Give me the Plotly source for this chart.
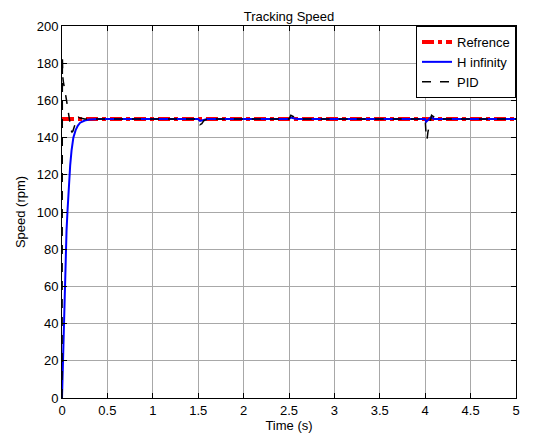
import plotly.graph_objects as go

# Reference speed
t_ref = [0, 5]
speed_ref = [150, 150]

# H infinity controller response
t_hinf = [0, 0.003, 0.006, 0.01, 0.015, 0.02, 0.025, 0.03, 0.036, 0.043, 0.05, 0.06, 0.07,
          0.08, 0.09, 0.105, 0.125, 0.15, 0.175, 0.2, 0.25, 0.3, 0.35, 0.4,
          1.5, 1.52, 1.56, 1.6, 2.5, 2.52, 2.56, 2.6, 4.0, 4.01, 4.03, 4.06, 4.1, 5]
speed_hinf = [0, 6, 14, 22, 32, 42, 52, 60, 70, 80, 90, 100, 110,
              118, 125, 133, 140, 144, 146.5, 148, 149.2, 149.7, 149.9, 150,
              150, 149, 149.5, 150, 150, 150.8, 150.3, 150, 150, 148.5, 149.5, 150.8, 150, 150]

# PID controller response
t_pid = [0, 0.002, 0.004, 0.006, 0.01, 0.015, 0.02, 0.03, 0.04, 0.05, 0.06, 0.07, 0.08,
         0.09, 0.1, 0.11, 0.12, 0.13, 0.14, 0.16, 0.18, 0.2, 0.25, 0.3,
         1.5, 1.52, 1.54, 1.56, 1.6, 2.5, 2.52, 2.54, 2.58, 2.62,
         4.0, 4.01, 4.02, 4.03, 4.05, 4.07, 4.1, 4.15, 5]
speed_pid = [0, 90, 183, 178, 172, 170, 168, 166, 163, 160, 157, 154, 150,
             146, 144, 143, 143.5, 145, 147, 149.5, 151, 150.5, 150, 150,
             150, 147, 147.5, 149, 150, 150, 152, 151.5, 150.5, 150,
             150, 141, 139, 143, 148, 152, 151, 150, 150]

x_ticks = [0, 0.5, 1, 1.5, 2, 2.5, 3, 3.5, 4, 4.5, 5]
x_tick_labels = ["0", "0.5", "1", "1.5", "2", "2.5", "3", "3.5", "4", "4.5", "5"]
y_ticks = [0, 20, 40, 60, 80, 100, 120, 140, 160, 180, 200]

FS = 13

fig = go.Figure()
fig.add_trace(go.Scatter(x=t_ref, y=speed_ref, mode="lines", name="Refrence",
                         line=dict(color="#ff0000", width=4, dash="dashdot")))
fig.add_trace(go.Scatter(x=t_hinf, y=speed_hinf, mode="lines", name="H infinity",
                         line=dict(color="#0000ff", width=2)))
fig.add_trace(go.Scatter(x=t_pid, y=speed_pid, mode="lines", name="PID",
                         line=dict(color="#000000", width=1.5, dash="dash")))

axis_common = dict(showline=True, linecolor="black", linewidth=1, mirror="ticks",
                   ticks="inside", ticklen=5, tickcolor="black",
                   showgrid=True, gridcolor="#a8a8a8", gridwidth=1,
                   zeroline=False, automargin=False,
                   tickfont=dict(size=FS, color="black"))

fig.update_xaxes(range=[0, 5], tickvals=x_ticks, ticktext=x_tick_labels,
                 title=dict(text="Time (s)", font=dict(size=FS, color="black"), standoff=3),
                 **axis_common)
fig.update_yaxes(range=[0, 200], tickvals=y_ticks,
                 title=dict(text="Speed (rpm)", font=dict(size=FS, color="black"), standoff=8),
                 **axis_common)

fig.update_layout(
    width=543, height=441,
    margin=dict(l=54, r=35, t=18, b=51),
    paper_bgcolor="white", plot_bgcolor="white",
    font=dict(family="Liberation Sans, Arial, sans-serif", size=FS, color="black"),
    title=dict(text="Tracking Speed", xref="paper", x=0.5, xanchor="center",
               yref="paper", y=1, yanchor="bottom", pad=dict(b=5),
               font=dict(size=FS, color="black")),
    legend=dict(x=1, y=1, xanchor="right", yanchor="top", bgcolor="white",
                bordercolor="black", borderwidth=1, font=dict(size=FS, color="black"),
                tracegroupgap=0, itemwidth=30),
    showlegend=True,
)

fig.write_html("out.html")
